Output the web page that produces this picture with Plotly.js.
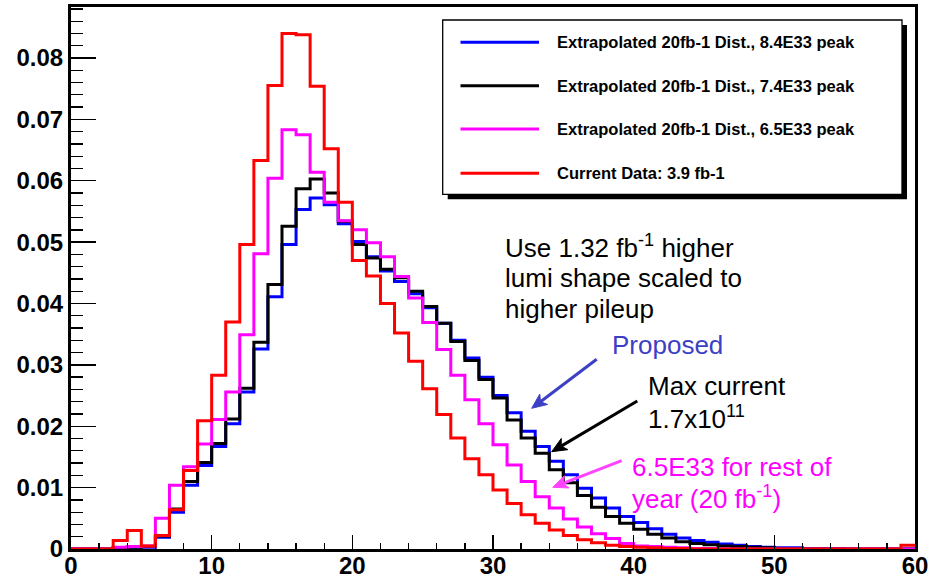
<!DOCTYPE html>
<html><head><meta charset="utf-8">
<script src="https://cdn.plot.ly/plotly-3.0.1.min.js"></script>
<style>html,body{margin:0;padding:0;background:#fff;}#chart{width:938px;height:581px;}</style>
</head><body><div id="chart"></div>
<script>
const binEdges = [0,1,2,3,4,5,6,7,8,9,10,11,12,13,14,15,16,17,18,19,20,21,22,23,24,25,26,27,28,29,30,31,32,33,34,35,36,37,38,39,40,41,42,43,44,45,46,47,48,49,50,51,52,53,54,55,56,57,58,59,60];

const seriesNames = [
  "Extrapolated 20fb-1 Dist., 8.4E33 peak",
  "Extrapolated 20fb-1 Dist., 7.4E33 peak",
  "Extrapolated 20fb-1 Dist., 6.5E33 peak",
  "Current Data: 3.9 fb-1"
];
const seriesColors = ["#0000ff", "#000000", "#ff00ff", "#ff0000"];

const blue84 = [0,0,0,0.0002,0.0003,0.0003,0.0019,0.0060,0.0104,0.0136,
 0.0167,0.0204,0.0256,0.0326,0.0411,0.0496,0.0553,0.0572,0.0561,0.0530,
 0.0501,0.0476,0.0453,0.0436,0.0416,0.0393,0.0368,0.0340,0.0311,0.0280,
 0.0250,0.0222,0.0192,0.0167,0.0143,0.0121,0.0099,0.0083,0.0067,0.0053,
 0.0043,0.0033,0.0024,0.0018,0.0014,0.0011,0.0008,0.0006,0.0004,0.0003,
 0.0002,0.0002,0.0001,0.0001,0.0001,0,0,0,0,0];

const black74 = [0,0,0,0.0002,0.0003,0.0004,0.0021,0.0065,0.0110,0.0141,
 0.0172,0.0212,0.0262,0.0337,0.0431,0.0526,0.0587,0.0603,0.0580,0.0534,
 0.0496,0.0474,0.0456,0.0442,0.0420,0.0395,0.0368,0.0338,0.0307,0.0276,
 0.0246,0.0210,0.0181,0.0156,0.0129,0.0108,0.0087,0.0068,0.0053,0.0042,
 0.0032,0.0024,0.0018,0.0012,0.0009,0.0007,0.0005,0.0004,0.0003,0.0002,
 0.0001,0.0001,0,0,0,0,0,0,0,0];

const magenta65 = [0,0,0,0.0003,0.0004,0.0005,0.0050,0.0104,0.0134,0.0171,
 0.0211,0.0256,0.0349,0.0481,0.0604,0.0683,0.0675,0.0614,0.0565,0.0535,
 0.0520,0.0499,0.0476,0.0444,0.0409,0.0369,0.0325,0.0283,0.0243,0.0204,
 0.0170,0.0137,0.0110,0.0085,0.0067,0.0049,0.0036,0.0025,0.0017,0.0009,
 0.0005,0.0004,0.0003,0.0002,0.0001,0.0001,0,0,0,0,
 0,0,0,0,0,0,0,0,0,0];

const redCurrent = [0,0,0,0.0014,0.0030,0.0005,0.0022,0.0064,0.0128,0.0209,
 0.0283,0.0370,0.0496,0.0633,0.0755,0.0840,0.0838,0.0754,0.0652,0.0565,
 0.0470,0.0445,0.0400,0.0352,0.0306,0.0261,0.0219,0.0181,0.0147,0.0121,
 0.0096,0.0074,0.0056,0.0042,0.0031,0.0022,0.0015,0.0010,0.0006,0.0004,
 0.0003,0.0002,0.0001,0.0001,0,0,0,0,0,0,
 0,0,0,0,0,0,0,0,0,0.0006];

const allSeries = [blue84, black74, magenta65, redCurrent];

const xTickVals = [0,10,20,30,40,50,60];
const yTickVals = [0,0.01,0.02,0.03,0.04,0.05,0.06,0.07,0.08];
const yTickText = ["0","0.01","0.02","0.03","0.04","0.05","0.06","0.07","0.08"];

// layout geometry (pixels)
const W = 938, H = 581, ML = 71, MR = 23, MT = 7, MB = 32;
const PW = W - ML - MR, PH = H - MT - MB;
const px = v => (v - ML) / PW;
const py = v => (H - MB - v) / PH;

const traces = allSeries.map((vals, i) => ({
  type: 'scatter', mode: 'lines',
  x: binEdges,
  y: vals.concat([vals[vals.length - 1]]),
  line: {shape: 'hv', color: seriesColors[i], width: 3},
  name: seriesNames[i],
  showlegend: false,
  hoverinfo: 'skip'
}));

const shapes = [];
const annotations = [];

// legend box with shadow
const LG = {l: 442.7, r: 902, t: 20, b: 194.3};
shapes.push({type:'rect', xref:'paper', yref:'paper', x0:px(LG.l+5), x1:px(LG.r+5), y0:py(LG.b+5), y1:py(LG.t+5), fillcolor:'#000', line:{width:0}});
shapes.push({type:'rect', xref:'paper', yref:'paper', x0:px(LG.l), x1:px(LG.r), y0:py(LG.b), y1:py(LG.t), fillcolor:'#fff', line:{color:'#000', width:1.3}});
const rowY = [42.3, 85.7, 129, 173.3];
seriesNames.forEach((n, i) => {
  shapes.push({type:'line', xref:'paper', yref:'paper', x0:px(460.5), x1:px(539), y0:py(rowY[i]), y1:py(rowY[i]), line:{color:seriesColors[i], width:3}});
  annotations.push({xref:'paper', yref:'paper', x:px(555), y:py(rowY[i]), xanchor:'left', yanchor:'middle', text:'<b>'+n+'</b>', showarrow:false, font:{family:'Liberation Sans, Arial, sans-serif', size:16.5, color:'#000'}});
});

// text annotations
const annFont = (c) => ({family:'Liberation Sans, Arial, sans-serif', size:26, color:c});
const textLines = [
  {t:'Use 1.32 fb<sup>-1</sup> higher', x:503, y:246, c:'#000'},
  {t:'lumi shape scaled to', x:503, y:278, c:'#000'},
  {t:'higher pileup', x:503, y:309, c:'#000'},
  {t:'Proposed', x:610, y:345, c:'#3c40c4'},
  {t:'Max current', x:646, y:386, c:'#000'},
  {t:'1.7x10<sup>11</sup>', x:646, y:417.7, c:'#000'},
  {t:'6.5E33 for rest of', x:630, y:467, c:'#ff00ff'},
  {t:'year (20 fb<sup>-1</sup>)', x:630, y:497.7, c:'#ff00ff'}
];
textLines.forEach(o => annotations.push({xref:'paper', yref:'paper', x:px(o.x), y:py(o.y), xanchor:'left', yanchor:'middle', text:o.t, showarrow:false, font:annFont(o.c)}));

// arrows drawn as shapes (shaft + filled head)
const arrows = [
  {hx:531.7, hy:408.3, tx:596.7, ty:359.3, c:'#3c40c4'},
  {hx:551.7, hy:451.7, tx:637.3, ty:401, c:'#000'},
  {hx:552.7, hy:487.3, tx:621.7, ty:460.7, c:'#ff44ff'}
];
arrows.forEach(a => {
  const dx = a.hx - a.tx, dy = a.hy - a.ty, L = Math.hypot(dx, dy);
  const ux = dx / L, uy = dy / L, nx = -uy, ny = ux;
  const hl = 15, hw = 6.5, notch = 4;
  const bx = a.hx - ux * hl, by = a.hy - uy * hl;
  const mx = a.hx - ux * (hl - notch), my = a.hy - uy * (hl - notch);
  shapes.push({type:'line', xref:'paper', yref:'paper', x0:px(a.tx), y0:py(a.ty), x1:px(mx), y1:py(my), line:{color:a.c, width:3}});
  const pts = [[a.hx, a.hy], [bx + nx * hw, by + ny * hw], [mx, my], [bx - nx * hw, by - ny * hw]];
  const path = 'M' + pts.map(p => px(p[0]) + ',' + py(p[1])).join(' L') + ' Z';
  shapes.push({type:'path', xref:'paper', yref:'paper', path: path, fillcolor:a.c, line:{color:a.c, width:1}});
});

const tickFont = {family:'Liberation Sans, Arial, sans-serif', size:24, color:'#000', weight:'bold'};

const layout = {
  width: W, height: H,
  margin: {l: ML, r: MR, t: MT, b: MB, pad: 0},
  paper_bgcolor: '#fff', plot_bgcolor: '#fff',
  showlegend: false,
  xaxis: {
    range: [0, 60], tickvals: xTickVals, ticktext: xTickVals.map(String),
    ticks: 'inside', ticklen: 14, tickwidth: 1.3, tickcolor: '#000',
    minor: {dtick: 2, tick0: 0, ticks: 'inside', ticklen: 6, tickwidth: 1.3, tickcolor: '#000', showgrid: false},
    showline: true, linecolor: '#000', linewidth: 3, mirror: true,
    showgrid: false, zeroline: false, tickfont: tickFont, fixedrange: true,
    ticklabelstandoff: -7
  },
  yaxis: {
    range: [0, PH / 6137.5], tickvals: yTickVals, ticktext: yTickText,
    ticks: 'inside', ticklen: 25, tickwidth: 1.3, tickcolor: '#000',
    minor: {dtick: 0.002, tick0: 0, ticks: 'inside', ticklen: 12, tickwidth: 1.3, tickcolor: '#000', showgrid: false},
    showline: true, linecolor: '#000', linewidth: 3, mirror: true,
    showgrid: false, zeroline: false, tickfont: tickFont, fixedrange: true
  },
  shapes: shapes,
  annotations: annotations
};

Plotly.newPlot('chart', traces, layout, {displayModeBar: false, staticPlot: true});
</script>
</body></html>
